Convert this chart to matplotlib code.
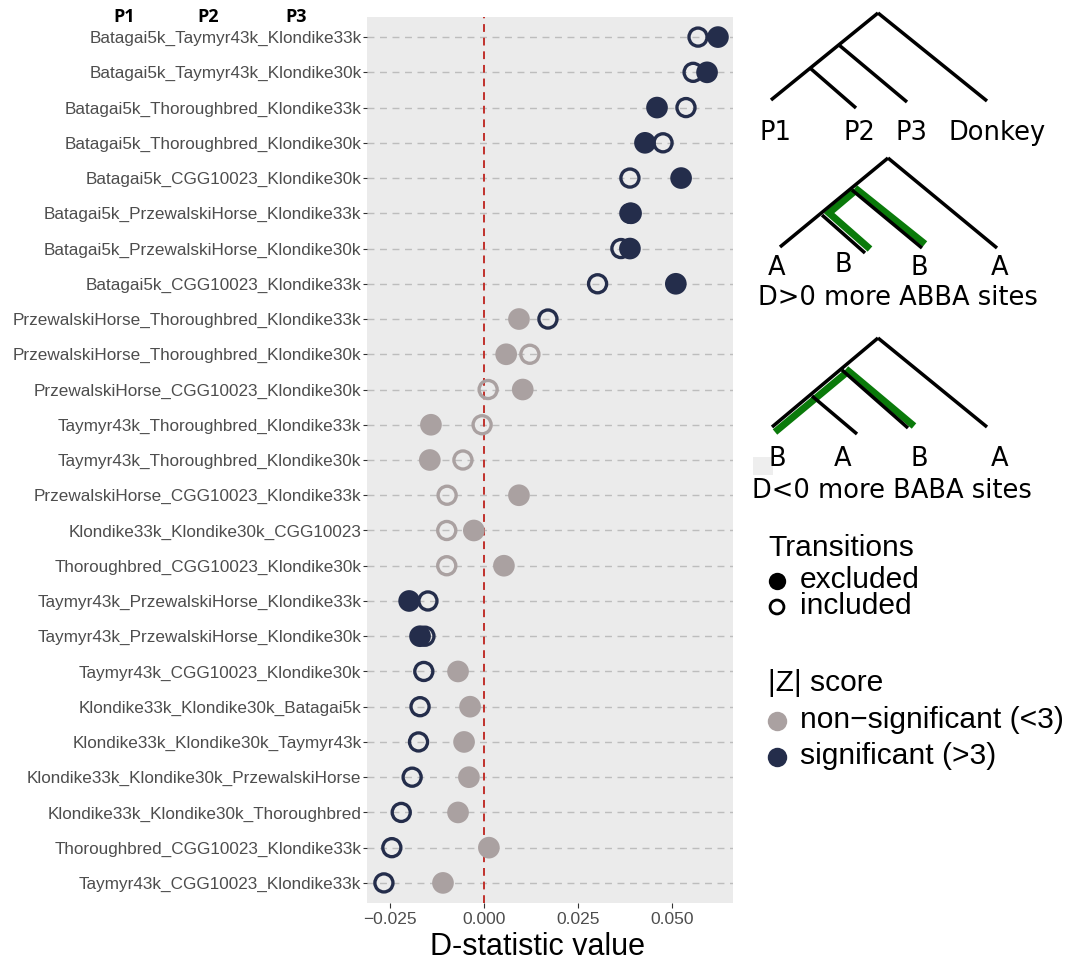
import matplotlib
matplotlib.use("Agg")
import matplotlib.pyplot as plt
import numpy as np

# ---------------- data ----------------
labels = [
    "Batagai5k_Taymyr43k_Klondike33k",
    "Batagai5k_Taymyr43k_Klondike30k",
    "Batagai5k_Thoroughbred_Klondike33k",
    "Batagai5k_Thoroughbred_Klondike30k",
    "Batagai5k_CGG10023_Klondike30k",
    "Batagai5k_PrzewalskiHorse_Klondike33k",
    "Batagai5k_PrzewalskiHorse_Klondike30k",
    "Batagai5k_CGG10023_Klondike33k",
    "PrzewalskiHorse_Thoroughbred_Klondike33k",
    "PrzewalskiHorse_Thoroughbred_Klondike30k",
    "PrzewalskiHorse_CGG10023_Klondike30k",
    "Taymyr43k_Thoroughbred_Klondike33k",
    "Taymyr43k_Thoroughbred_Klondike30k",
    "PrzewalskiHorse_CGG10023_Klondike33k",
    "Klondike33k_Klondike30k_CGG10023",
    "Thoroughbred_CGG10023_Klondike30k",
    "Taymyr43k_PrzewalskiHorse_Klondike33k",
    "Taymyr43k_PrzewalskiHorse_Klondike30k",
    "Taymyr43k_CGG10023_Klondike30k",
    "Klondike33k_Klondike30k_Batagai5k",
    "Klondike33k_Klondike30k_Taymyr43k",
    "Klondike33k_Klondike30k_PrzewalskiHorse",
    "Klondike33k_Klondike30k_Thoroughbred",
    "Thoroughbred_CGG10023_Klondike33k",
    "Taymyr43k_CGG10023_Klondike33k",
]
# transitions excluded (filled markers)
d_excluded = [0.0622, 0.0593, 0.0460, 0.0428, 0.0524, 0.0391, 0.0388, 0.0510,
              0.0093, 0.0059, 0.0103, -0.0141, -0.0144, 0.0093, -0.0027, 0.0053,
              -0.0199, -0.0170, -0.0069, -0.0037, -0.0053, -0.0040, -0.0069, 0.0013, -0.0109]
sig_excluded = [1, 1, 1, 1, 1, 1, 1, 1,
                0, 0, 0, 0, 0, 0, 0, 0,
                1, 1, 0, 0, 0, 0, 0, 0, 0]
# transitions included (open markers)
d_included = [0.0569, 0.0556, 0.0537, 0.0476, 0.0388, 0.0388, 0.0364, 0.0302,
              0.0170, 0.0122, 0.0011, -0.0005, -0.0056, -0.0098, -0.0099, -0.0099,
              -0.0149, -0.0157, -0.0160, -0.0170, -0.0174, -0.0191, -0.0220, -0.0245, -0.0266]
sig_included = [1, 1, 1, 1, 1, 1, 1, 1,
                1, 0, 0, 0, 0, 0, 0, 0,
                1, 1, 1, 1, 1, 1, 1, 1, 1]
xticks = [-0.025, 0.0, 0.025, 0.050]
xticklabels = ["\u22120.025", "0.000", "0.025", "0.050"]

# ---------------- style ----------------
NAVY = "#242d4b"
GREY = "#aaa1a1"
PANEL = "#ebebeb"
W, H = 1073, 964
plt.rcParams["font.family"] = ["Liberation Sans", "DejaVu Sans"]

fig = plt.figure(figsize=(W / 100, H / 100), dpi=100)
fig.patch.set_facecolor("white")

L, R, T, B = 367, 733, 17, 903
ax = fig.add_axes([L / W, 1 - B / H, (R - L) / W, (B - T) / H])
ax.set_facecolor(PANEL)
for s in ax.spines.values():
    s.set_visible(False)

n = len(labels)
y = np.arange(n)
ax.set_ylim(n - 1 + 0.57, -0.57)
ax.set_xlim(-0.0311, 0.0662)

for yi in y:
    ax.axhline(yi, color="#bdbdbd", lw=1.0, ls=(0, (5, 4)), zorder=1)
ax.axvline(0, color="#c0302b", lw=1.4, ls=(0, (4, 3)), zorder=2)

col_inc = [NAVY if s else GREY for s in sig_included]
col_exc = [NAVY if s else GREY for s in sig_excluded]
ax.scatter(d_included, y, s=13.0 ** 2, facecolors="none", edgecolors=col_inc,
           linewidths=2.4, zorder=3)
ax.scatter(d_excluded, y, s=15.6 ** 2, c=col_exc, linewidths=0, zorder=4)

ax.set_yticks(y)
ax.set_yticklabels(labels, fontsize=12.3, color="#4d4d4d")
ax.set_xticks(xticks)
ax.set_xticklabels(xticklabels, fontsize=12.5, color="#4d4d4d")
ax.tick_params(axis="x", length=3.5, width=0.8, color="#333333", pad=3)
ax.tick_params(axis="y", length=3.0, width=0.8, color="#333333", pad=1.0)
ax.set_xlabel("D-statistic value", fontsize=22, color="black", labelpad=4)
ax.xaxis.set_label_coords((538 - L) / (R - L), -0.033, transform=ax.transAxes)
ax.xaxis.label.set_va("top")

# ---------------- overlay (header, trees, legend) ----------------
ov = fig.add_axes([0, 0, 1, 1], zorder=10)
ov.set_xlim(0, W)
ov.set_ylim(H, 0)
ov.axis("off")
ov.patch.set_alpha(0)

for txt, xx in [("P1", 124), ("P2", 208), ("P3", 296)]:
    ov.text(xx, 22, txt, fontsize=13, fontweight="bold", family=["Open Sans", "DejaVu Sans"],
            ha="center", va="baseline", color="black")

LW_BLACK = 3.5 * 0.72
LW_GREEN = 7.0 * 0.72
GREEN = "#0a7a0a"
TREE_FONT = ["DejaVu Sans"]


def seg(p, q, **kw):
    ov.plot([p[0], q[0]], [p[1], q[1]], solid_capstyle="butt", **kw)


# tree 1
root, n1, n2 = (878, 13), (839, 45), (810, 68)
tips = [(771, 100), (856, 108), (907, 102), (987, 101)]
seg(root, tips[0], color="black", lw=LW_BLACK)
seg(root, tips[3], color="black", lw=LW_BLACK)
seg(n1, tips[2], color="black", lw=LW_BLACK)
seg(n2, tips[1], color="black", lw=LW_BLACK)
for txt, xx in [("P1", 775), ("P2", 859), ("P3", 912), ("Donkey", 997)]:
    ov.text(xx, 140, txt, fontsize=18.5, family=TREE_FONT, ha="center", va="baseline")

# tree 2 (ABBA)
root, n1, n2 = (888, 158), (852, 190), (822, 215)
tips = [(780, 247), (865, 253), (922, 248), (997, 248)]
gx = [855, 829, 870]
gy = [191, 213, 249]
ov.plot(gx, gy, color=GREEN, lw=LW_GREEN, solid_joinstyle="miter", solid_capstyle="butt")
seg((855, 188), (925, 244), color=GREEN, lw=LW_GREEN)
seg(root, tips[0], color="black", lw=LW_BLACK)
seg(root, tips[3], color="black", lw=LW_BLACK)
seg(n1, tips[2], color="black", lw=LW_BLACK)
seg(n2, tips[1], color="black", lw=LW_BLACK)
for txt, xx, yy in [("A", 777, 275), ("B", 843, 272), ("B", 919, 275), ("A", 1000, 275)]:
    ov.text(xx, yy, txt, fontsize=18.5, family=TREE_FONT, ha="center", va="baseline")
ov.text(898, 305, "D>0 more ABBA sites", fontsize=18.5, family=TREE_FONT,
        ha="center", va="baseline")

# tree 3 (BABA)
root, n1, n2 = (878, 338), (842, 370), (812, 396)
tips = [(772, 427), (857, 434), (908, 428), (987, 427)]
seg((775, 432), (846, 373), color=GREEN, lw=LW_GREEN)
seg((846, 369), (914, 426), color=GREEN, lw=LW_GREEN)
seg(root, tips[0], color="black", lw=LW_BLACK)
seg(root, tips[3], color="black", lw=LW_BLACK)
seg(n1, tips[2], color="black", lw=LW_BLACK)
seg(n2, tips[1], color="black", lw=LW_BLACK)
for txt, xx in [("B", 777), ("A", 843), ("B", 919), ("A", 1000)]:
    ov.text(xx, 466, txt, fontsize=18.5, family=TREE_FONT, ha="center", va="baseline")
ov.text(892, 498, "D<0 more BABA sites", fontsize=18.5, family=TREE_FONT,
        ha="center", va="baseline")
ov.add_patch(plt.Rectangle((753, 457), 20, 18, color="#eeeeee", zorder=0, lw=0))

# legend
LEG_FS = 21.6
ov.text(768, 556, "Transitions", fontsize=LEG_FS, ha="left", va="baseline")
ov.scatter([777], [581], s=12.5 ** 2, c="black", linewidths=0)
ov.text(800, 588, "excluded", fontsize=LEG_FS, ha="left", va="baseline")
ov.scatter([777], [607], s=10 ** 2, facecolors="none", edgecolors="black", linewidths=2.0)
ov.text(800, 614, "included", fontsize=LEG_FS, ha="left", va="baseline")
ov.text(768, 691, "|Z| score", fontsize=LEG_FS, ha="left", va="baseline")
ov.scatter([777], [721], s=14 ** 2, c=GREY, linewidths=0)
ov.text(800, 728, "non\u2212significant (<3)", fontsize=LEG_FS, ha="left", va="baseline")
ov.scatter([777], [757], s=14 ** 2, c=NAVY, linewidths=0)
ov.text(800, 764, "significant (>3)", fontsize=LEG_FS, ha="left", va="baseline")

fig.savefig("out.png", dpi=100)
